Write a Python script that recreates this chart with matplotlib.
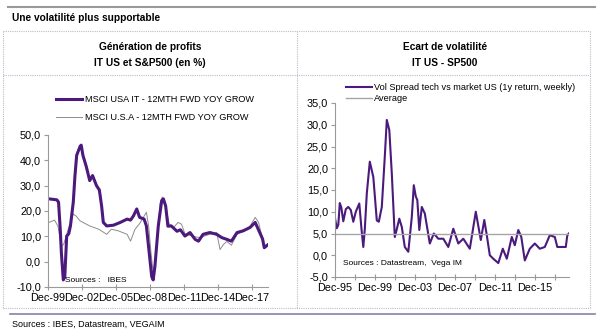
import matplotlib.pyplot as plt
from matplotlib.lines import Line2D

plt.rcParams['font.family'] = ['Liberation Sans', 'DejaVu Sans']

# left chart : profit growth, % (decimal years)
it_t = [2000.0, 2000.7, 2000.85, 2001.0, 2001.1, 2001.27, 2001.4, 2001.57, 2001.75, 2001.9,
        2002.15, 2002.3, 2002.45, 2002.75, 2002.85, 2003.0, 2003.3, 2003.6, 2003.85, 2004.2,
        2004.45, 2004.65, 2004.8, 2005.1, 2005.7, 2006.3, 2006.9, 2007.2, 2007.45, 2007.75,
        2008.0, 2008.4, 2008.6, 2008.85, 2009.07, 2009.2, 2009.35, 2009.65, 2009.95, 2010.1,
        2010.3, 2010.5, 2010.8, 2011.3, 2011.6, 2012.0, 2012.45, 2012.9, 2013.2, 2013.6,
        2014.2, 2014.8, 2015.25, 2015.7, 2016.1, 2016.6, 2017.15, 2017.75, 2018.2, 2018.6,
        2018.85, 2019.0, 2019.35]
it_v = [24.8, 24.4, 23.5, 12.8, 3.5, -7.2, -6.0, 10.1, 11.0, 14.1,
        23.5, 34.0, 42.0, 45.5, 46.0, 42.0, 37.5, 32.0, 34.0, 30.0,
        28.3, 22.0, 15.5, 14.1, 14.4, 15.5, 16.8, 16.4, 18.0, 20.8,
        17.5, 16.8, 14.1, 3.5, -5.9, -7.2, -2.0, 14.1, 24.1, 24.8,
        22.0, 14.0, 14.1, 12.0, 12.6, 10.1, 11.5, 8.8, 8.1, 10.8,
        11.5, 10.8, 9.5, 8.8, 8.1, 11.5, 12.2, 13.5, 15.5, 11.5,
        9.0, 5.5, 6.8]

us_t = [2000.0, 2000.5, 2000.8, 2001.1, 2001.3, 2001.7, 2002.15, 2002.4, 2002.75, 2003.0,
        2003.6, 2004.4, 2005.1, 2005.5, 2006.1, 2006.9, 2007.2, 2007.6, 2008.0, 2008.6,
        2008.8, 2009.0, 2009.2, 2009.5, 2009.8, 2010.0, 2010.3, 2010.6, 2011.0, 2011.4,
        2011.7, 2012.0, 2012.7, 2013.3, 2014.2, 2014.8, 2015.1, 2015.4, 2015.7, 2016.1,
        2016.6, 2017.2, 2017.75, 2018.2, 2018.5, 2018.75, 2019.0, 2019.35]
us_v = [15.5, 16.4, 14.0, 6.1, 6.8, 12.8, 18.8, 18.0, 16.1, 15.5,
        14.1, 12.8, 10.8, 12.8, 12.2, 10.8, 8.1, 12.8, 15.0, 19.5,
        14.0, 4.0, -4.5, 5.0, 22.8, 25.5, 22.0, 15.0, 13.5, 15.5,
        14.8, 11.0, 10.0, 9.5, 10.8, 11.5, 4.8, 6.8, 8.0, 6.5,
        10.8, 12.0, 14.0, 17.5, 15.5, 10.8, 6.1, 7.0]

left_ticks = ['Dec-99', 'Dec-02', 'Dec-05', 'Dec-08', 'Dec-11', 'Dec-14', 'Dec-17']

# right chart : vol spread tech vs market
vs_t = [1995.92, 1996.1, 1996.25, 1996.4, 1996.55, 1996.75, 1997.0, 1997.25, 1997.5, 1997.75,
        1998.0, 1998.35, 1998.55, 1998.75, 1998.9, 1999.1, 1999.4, 1999.75, 2000.1, 2000.3,
        2000.6, 2000.9, 2001.1, 2001.35, 2001.6, 2001.9, 2002.1, 2002.35, 2002.6, 2002.9,
        2003.25, 2003.6, 2003.8, 2004.0, 2004.15, 2004.35, 2004.6, 2004.9, 2005.4, 2005.8,
        2006.25, 2006.75, 2007.25, 2007.75, 2008.25, 2008.75, 2009.4, 2010.0, 2010.5, 2010.85,
        2011.1, 2011.4, 2011.75, 2012.25, 2012.7, 2013.1, 2013.6, 2013.9, 2014.25, 2014.55,
        2014.9, 2015.4, 2015.9, 2016.4, 2016.9, 2017.4, 2017.9, 2018.15, 2018.6, 2019.0,
        2019.15, 2019.35]
vs_v = [8.5, 6.2, 7.0, 12.0, 11.0, 7.8, 10.6, 11.1, 10.4, 7.7,
        10.0, 11.9, 6.5, 1.9, 6.0, 14.2, 21.5, 18.0, 8.0, 7.7,
        11.1, 22.7, 31.1, 28.8, 18.8, 4.2, 6.0, 8.4, 6.5, 1.9,
        0.8, 8.8, 16.1, 13.5, 12.7, 5.8, 11.1, 9.6, 2.7, 5.0,
        3.8, 3.8, 1.9, 6.1, 2.7, 3.8, 1.5, 10.0, 3.5, 8.1,
        4.6, 0.0, -0.8, -1.8, 1.5, -0.8, 4.2, 2.3, 5.8, 4.2,
        -1.2, 1.5, 2.7, 1.5, 1.9, 4.6, 4.2, 1.9, 1.9, 1.9,
        4.6, 5.1]
vs_avg = 4.9

right_ticks = ['Dec-95', 'Dec-99', 'Dec-03', 'Dec-07', 'Dec-11', 'Dec-15']

purple = '#4b1a7c'
W, H = 605, 336

fig = plt.figure(figsize=(6.05, 3.36), dpi=100)


def fx(px):
    return px / W


def fy(py):
    return 1 - py / H


def hline(x0, x1, y, **kw):
    fig.add_artist(Line2D([fx(x0), fx(x1)], [fy(y), fy(y)], transform=fig.transFigure, **kw))


def vline(x, y0, y1, **kw):
    fig.add_artist(Line2D([fx(x), fx(x)], [fy(y0), fy(y1)], transform=fig.transFigure, **kw))


# frame
hline(8, 595, 7, color='#999999', lw=1.5)
hline(10, 595, 314, color='#8a80a8', lw=1.2)
dot = dict(color='#b8bfcc', lw=0.8, ls=(0, (1, 1)))
hline(3, 590, 31, **dot)
hline(3, 590, 308, **dot)
hline(3, 590, 75, **dot)
vline(3, 31, 308, **dot)
vline(590, 31, 308, **dot)
vline(297, 31, 308, **dot)

fig.text(fx(12), fy(18), 'Une volatilité plus supportable', fontsize=7.3, fontweight='bold', va='center')
fig.text(fx(150), fy(47), 'Génération de profits', fontsize=7.3, fontweight='bold', ha='center', va='center')
fig.text(fx(150), fy(63), 'IT US et S&P500 (en %)', fontsize=7.3, fontweight='bold', ha='center', va='center')
fig.text(fx(445), fy(47), 'Ecart de volatilité', fontsize=7.3, fontweight='bold', ha='center', va='center')
fig.text(fx(445), fy(63), 'IT US - SP500', fontsize=7.3, fontweight='bold', ha='center', va='center')
fig.text(fx(12), fy(324), 'Sources : IBES, Datastream, VEGAIM', fontsize=6.5, va='center')


def style(ax):
    for s in ['top', 'right']:
        ax.spines[s].set_visible(False)
    for s in ['left', 'bottom']:
        ax.spines[s].set_color('#9a9a9a')
        ax.spines[s].set_linewidth(0.8)
    ax.tick_params(axis='both', labelsize=7.8, color='#9a9a9a', width=0.8, length=3, pad=2)
    ax.tick_params(axis='x', direction='inout', length=5)
    ax.patch.set_alpha(0)


# left chart
ax1 = fig.add_axes([fx(48), fy(287), fx(268 - 48), (287 - 135) / H])
ax1.plot(us_t, us_v, color='#8c8c8c', lw=0.7, label='MSCI U.S.A - 12MTH FWD YOY GROW')
ax1.plot(it_t, it_v, color=purple, lw=2.2, label='MSCI USA IT - 12MTH FWD YOY GROW')
ax1.set_xlim(1999.92, 2019.33)
ax1.set_ylim(-10, 50)
ax1.set_yticks(range(-10, 51, 10))
ax1.set_yticklabels([f'{v:.1f}'.replace('.', ',') for v in range(-10, 51, 10)])
ax1.set_xticks([1999.92 + 3 * i for i in range(len(left_ticks))])
ax1.set_xticklabels(left_ticks)
style(ax1)
ax1.text(2001.4, -7.3, 'Sources :   IBES', fontsize=6, va='center')
h, l = ax1.get_legend_handles_labels()
ax1.legend(h[::-1], l[::-1], loc='upper left', bbox_to_anchor=(fx(56), fy(95)),
           bbox_transform=fig.transFigure, frameon=False, fontsize=6.6, borderpad=0,
           borderaxespad=0, handlelength=2.8, handletextpad=0.4, labelspacing=0.95)

# right chart
ax2 = fig.add_axes([fx(335), fy(277), fx(569 - 335), (277 - 103) / H])
ax2.plot(vs_t, vs_v, color=purple, lw=1.5, label='Vol Spread tech vs market US (1y return, weekly)')
ax2.axhline(vs_avg, color='#a6a6a6', lw=1, label='Average')
ax2.set_xlim(1995.92, 2019.32)
ax2.set_ylim(-5, 35)
ax2.set_yticks(range(-5, 36, 5))
ax2.set_yticklabels([f'{v:.1f}'.replace('.', ',') for v in range(-5, 36, 5)])
ax2.set_xticks([1995.92 + 2 * i for i in range(12)])
ax2.set_xticklabels([right_ticks[i // 2] if i % 2 == 0 else '' for i in range(12)])
style(ax2)
ax2.text(1996.7, -1.9, 'Sources : Datastream,  Vega IM', fontsize=6, va='center')
ax2.legend(loc='upper left', bbox_to_anchor=(fx(346), fy(83)),
           bbox_transform=fig.transFigure, frameon=False, fontsize=6.6, borderpad=0,
           borderaxespad=0, handlelength=2.8, handletextpad=0.2, labelspacing=0.2)

plt.savefig('out.png', dpi=100)
